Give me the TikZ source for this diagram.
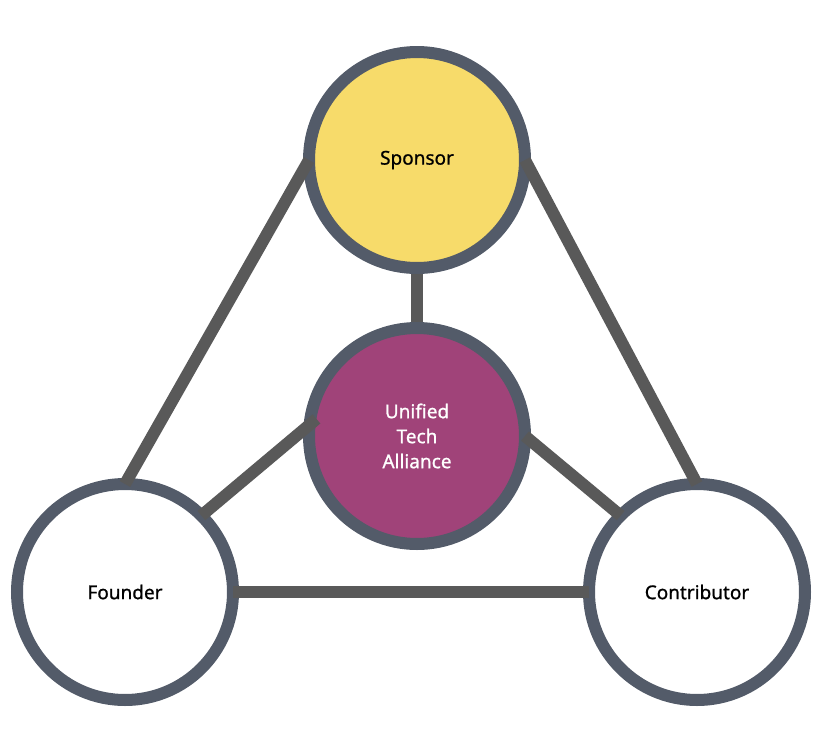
\documentclass[tikz,border=0pt]{standalone}
\usepackage{fontspec}
\setmainfont{Noto Sans}
\newfontfamily\labelfont{Noto Sans}[FakeBold=0.9]
\usepackage{tikz}
\usetikzlibrary{arrows.meta}
\usetikzlibrary{calc}
\definecolor{ringgray}{HTML}{535B69}
\definecolor{linkgray}{HTML}{595959}
\definecolor{sponsoryellow}{HTML}{F7DB6A}
\definecolor{allianceplum}{HTML}{A04379}
\begin{document}
\begin{tikzpicture}[x=1pt, y=-1pt,
        member_style/.style={circle,draw=ringgray,line width=12pt,fill=white,minimum size=216pt,inner sep=0pt,outer sep=0pt,font=\labelfont\fontsize{19}{25}\selectfont,align=center},
        sponsor_style/.style={member_style,fill=sponsoryellow},
        hub_style/.style={member_style,fill=allianceplum,text=white},
        link_style/.style={draw=linkgray, line width=12pt}]

        \useasboundingbox (0,0) rectangle (823,737);

        \draw [link_style] (417,160) -- (417,436);

        \node [sponsor_style](n1) at (417,160) {Sponsor};

        \node [hub_style](n2) at (417,436) {Unified\\Tech\\Alliance};

        \node [member_style](n3) at (125,592) {Founder};

        \node [member_style](n4) at (697,592) {Contributor};

        \draw [link_style] (n3.north) edge (n1.west);

        \draw [link_style] (n4.north) edge (n1.east);

        \draw [link_style] (n3.east) edge (n4.west);

        \draw [link_style] (n3.45) edge[shorten >=-9pt] (n2.174);

        \draw [link_style] (n2.east) edge (n4.135);

        \end{tikzpicture}
\end{document}
